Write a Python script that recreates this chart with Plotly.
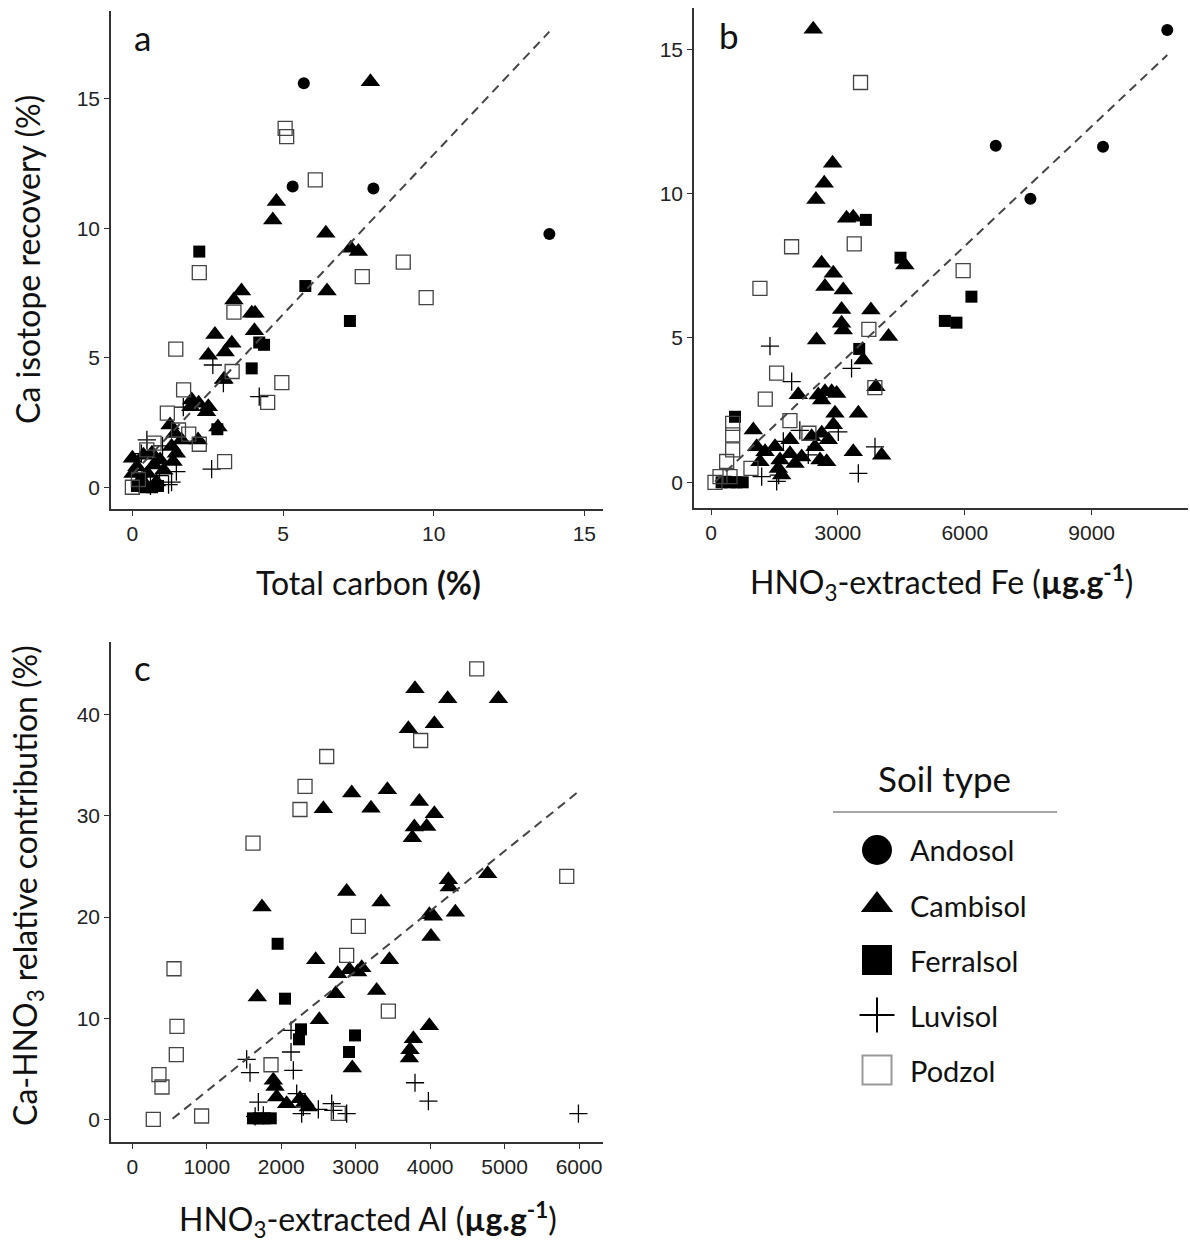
import numpy as np
import plotly.graph_objects as go

W, H = 1190, 1243
soil_types = ["Andosol", "Cambisol", "Ferralsol", "Luvisol", "Podzol"]

# ---------------- Panel a : Total carbon (%) vs Ca isotope recovery (%)
a_andosol_x = [5.69, 5.32, 8.0, 13.84]
a_andosol_y = [15.6, 11.61, 11.54, 9.78]
a_cambisol_x = [7.9, 4.78, 4.66, 6.42, 7.25, 7.5, 6.46, 3.62, 3.37, 3.96, 4.07, 4.05, 2.74, 3.30, 3.08,
                2.52, 3.04, 1.97, 2.2, 1.94, 2.52, 2.46, 2.84, 1.25, 1.41, 1.63, 2.18, 1.3, 1.46, 1.35,
                0.0, 0.37, 0.65, 0.92, 0.15, 0.71, 0.02, 0.5, 1.04, 0.3, 0.8]
a_cambisol_y = [15.66, 11.03, 10.32, 9.81, 9.23, 9.1, 7.58, 7.58, 7.23, 6.72, 6.72, 6.04, 5.9, 5.56, 5.22,
                5.1, 4.17, 3.37, 3.24, 3.11, 3.11, 2.92, 2.33, 2.4, 2.08, 1.82, 1.82, 1.57, 1.31, 0.99,
                1.12, 1.24, 1.31, 1.05, 0.79, 0.86, 0.53, 0.53, 0.66, 0.3, 0.2]
a_ferralsol_x = [2.22, 5.74, 7.22, 4.21, 4.37, 3.96, 2.82, 0.15, 0.4, 0.65, 0.85, 0.3]
a_ferralsol_y = [9.1, 7.77, 6.42, 5.59, 5.5, 4.59, 2.24, 0.05, 0.0, 0.0, 0.05, 0.25]
a_luvisol_x = [2.67, 3.02, 4.21, 2.63, 1.3, 0.48, 1.69, 1.46, 0.9, 0.3, 0.6, 1.0, 1.2]
a_luvisol_y = [4.72, 4.02, 3.5, 0.7, 0.2, 1.83, 3.09, 0.6, 0.45, 1.3, 0.05, 1.6, 0.1]
a_podzol_x = [5.07, 5.12, 6.07, 2.22, 8.99, 7.63, 9.75, 3.37, 1.44, 3.31, 4.96, 4.49, 1.70, 1.16, 1.53,
              1.87, 2.22, 3.06, 0.72, 0.48, 0.0, 0.2]
a_podzol_y = [13.86, 13.54, 11.87, 8.29, 8.69, 8.13, 7.32, 6.76, 5.33, 4.47, 4.04, 3.28, 3.76, 2.86, 2.21,
              2.05, 1.66, 0.99, 1.70, 1.44, 0.0, 0.3]
a_fit = [0.5, 1.235]          # intercept, slope

# ---------------- Panel b : HNO3-extracted Fe vs Ca isotope recovery (%)
b_andosol_x = [10787, 6732, 9268, 7551]
b_andosol_y = [15.67, 11.66, 11.62, 9.82]
b_cambisol_x = [2417, 2874, 2677, 2480, 3205, 3362, 2614, 2890, 4583, 2693, 3126, 3087, 3087, 3126, 3780,
                4197, 2496, 3598, 3898, 2063, 2537, 2695, 2853, 2971, 2616, 2931, 3483, 2892, 1000, 1868,
                1513, 1080, 1277, 1158, 2380, 2617, 2773, 2459, 2144, 1868, 1986, 1631, 1591, 1670, 2577,
                2735, 3364, 4035]
b_cambisol_y = [15.69, 11.05, 10.36, 9.80, 9.15, 9.18, 7.59, 7.24, 7.53, 6.78, 6.66, 5.99, 5.51, 5.28, 5.97,
                5.05, 4.93, 4.24, 3.31, 3.03, 3.02, 3.14, 3.14, 3.08, 2.85, 2.39, 2.39, 1.99, 1.81, 1.47,
                1.23, 1.23, 1.06, 0.71, 1.58, 1.70, 1.47, 1.23, 0.88, 0.99, 0.65, 0.77, 0.48, 0.25, 0.77,
                0.71, 1.06, 0.94]
b_ferralsol_x = [3661, 4480, 6157, 5528, 5803, 3504, 567, 250, 450, 600, 750, 350]
b_ferralsol_y = [9.09, 7.78, 6.43, 5.59, 5.53, 4.62, 2.27, 0.0, 0.0, 0.0, 0.0, 0.02]
b_luvisol_x = [1394, 3323, 1907, 3877, 3483, 1710, 3010, 1198, 1553, 2300, 1600, 2100]
b_luvisol_y = [4.72, 3.95, 3.49, 1.23, 0.31, 1.42, 1.75, 0.2, 0.03, 0.95, 0.25, 1.8]
b_podzol_x = [3535, 1905, 3386, 1157, 5961, 3732, 1551, 1283, 3874, 1866, 2315, 512, 512, 512, 370, 945,
              213, 449, 94]
b_podzol_y = [13.85, 8.16, 8.26, 6.72, 7.33, 5.30, 3.78, 2.88, 3.28, 2.14, 1.70, 2.04, 1.64, 1.12, 0.72, 0.48,
              0.2, 0.2, 0.0]
b_fit = [-0.11, 0.0013822]

# ---------------- Panel c : HNO3-extracted Al vs Ca-HNO3 relative contribution (%)
c_cambisol_x = [3797, 4236, 4917, 4057, 3708, 2947, 3426, 2566, 3206, 3855, 4057, 3788, 3954, 3761, 1742,
                2879, 3341, 4245, 4258, 4773, 3990, 4044, 4339, 4012, 2463, 3453, 2758, 2915, 3081, 3027,
                2732, 3282, 1679, 2512, 3990, 3775, 3730, 3721, 2955, 1894, 1917, 1939, 2073, 2252, 2320,
                2364]
c_cambisol_y = [42.57, 41.58, 41.58, 39.11, 38.62, 32.26, 32.59, 30.71, 30.77, 31.43, 30.21, 28.9, 28.96, 27.84,
                20.99, 22.54, 21.48, 23.69, 22.97, 24.28, 20.23, 20.07, 20.49, 18.09, 15.78, 15.78, 14.4,
                14.79, 14.99, 14.56, 12.42, 12.75, 12.09, 9.85, 9.26, 7.97, 6.89, 6.06, 5.07, 3.86, 3.26,
                2.21, 1.55, 2.04, 1.71, 1.22]
c_ferralsol_x = [1952, 2051, 2266, 2239, 2991, 2911, 1620, 1700, 1780, 1860]
c_ferralsol_y = [17.36, 11.93, 8.9, 7.91, 8.30, 6.66, 0.1, 0.1, 0.1, 0.1]
c_luvisol_x = [1536, 1581, 2132, 2132, 2163, 1693, 2208, 2678, 2700, 2879, 2275, 2499, 3797, 3977, 5992,
               1760, 2297, 1650]
c_luvisol_y = [5.93, 4.61, 8.8, 6.66, 4.84, 1.71, 2.54, 1.55, 0.89, 0.56, 0.56, 0.99, 3.62, 1.81, 0.56,
               0.4, 1.22, 0.3]
c_podzol_x = [4626, 3873, 2611, 2320, 2252, 1621, 5835, 3036, 2879, 560, 3439, 600, 591, 358, 399, 1863,
              931, 282, 2767]
c_podzol_y = [44.55, 37.46, 35.88, 32.92, 30.64, 27.31, 24.02, 19.08, 16.21, 14.89, 10.71, 9.19, 6.39, 4.42,
              3.2, 5.4, 0.33, 0.0, 0.6]
c_fit = [-3.15, 0.005934]

a_ticks = [0, 5, 10, 15]
b_xticks = [0, 3000, 6000, 9000]
c_xticks = [0, 1000, 2000, 3000, 4000, 5000, 6000]
c_yticks = [0, 10, 20, 30, 40]

# ---------------- styles
STYLE = {
    "Andosol":   dict(symbol="circle", size=12, color="black", line=dict(width=0)),
    "Cambisol":  dict(symbol="triangle-up", size=17, color="black", line=dict(width=0)),
    "Ferralsol": dict(symbol="square", size=12, color="black", line=dict(width=0)),
    "Luvisol":   dict(symbol="cross-thin", size=13, color="black", line=dict(width=1.3, color="black")),
    "Podzol":    dict(symbol="square-open", size=14, color="#444", line=dict(width=1.3, color="#444")),
}
LEG_STYLE = {
    "Andosol":   dict(symbol="circle", size=30, color="black", line=dict(width=0)),
    "Cambisol":  dict(symbol="triangle-up", size=28, color="black", line=dict(width=0)),
    "Ferralsol": dict(symbol="square", size=30, color="black", line=dict(width=0)),
    "Luvisol":   dict(symbol="cross-thin", size=25, color="black", line=dict(width=2, color="black")),
    "Podzol":    dict(symbol="square-open", size=29, color="#999", line=dict(width=2, color="#999")),
}

panels = {
    "a": dict(ax=("x", "y"), data={
        "Andosol": (a_andosol_x, a_andosol_y), "Cambisol": (a_cambisol_x, a_cambisol_y),
        "Ferralsol": (a_ferralsol_x, a_ferralsol_y), "Luvisol": (a_luvisol_x, a_luvisol_y),
        "Podzol": (a_podzol_x, a_podzol_y)}, fit=a_fit),
    "b": dict(ax=("x2", "y2"), data={
        "Andosol": (b_andosol_x, b_andosol_y), "Cambisol": (b_cambisol_x, b_cambisol_y),
        "Ferralsol": (b_ferralsol_x, b_ferralsol_y), "Luvisol": (b_luvisol_x, b_luvisol_y),
        "Podzol": (b_podzol_x, b_podzol_y)}, fit=b_fit),
    "c": dict(ax=("x3", "y3"), data={
        "Cambisol": (c_cambisol_x, c_cambisol_y),
        "Ferralsol": (c_ferralsol_x, c_ferralsol_y), "Luvisol": (c_luvisol_x, c_luvisol_y),
        "Podzol": (c_podzol_x, c_podzol_y)}, fit=c_fit),
}

fig = go.Figure()
draw_order = ["Cambisol", "Ferralsol", "Andosol", "Luvisol", "Podzol"]
for key, p in panels.items():
    xa, ya = p["ax"]
    allx = []
    for st in draw_order:
        if st not in p["data"]:
            continue
        xs, ys = p["data"][st]
        allx += xs
        fig.add_trace(go.Scatter(x=xs, y=ys, mode="markers", xaxis=xa, yaxis=ya,
                                 marker=STYLE[st], showlegend=False, name=st))
    # linear fit (lm) drawn over the data range, values below 0 dropped
    fx = np.linspace(min(allx), max(allx), 200)
    fy = p["fit"][0] + p["fit"][1] * fx
    keep = fy >= 0
    fig.add_trace(go.Scatter(x=fx[keep], y=fy[keep], mode="lines", xaxis=xa, yaxis=ya,
                             line=dict(color="#444", width=2, dash="9px,6px"), showlegend=False,
                             hoverinfo="skip"))

# legend as markers on a hidden axis (pixel coordinates)
leg_x0 = 877
leg_y = [850 + 55 * i for i in range(len(soil_types))]
for st, yy in zip(soil_types, leg_y):
    fig.add_trace(go.Scatter(x=[leg_x0], y=[yy], mode="markers", xaxis="x4", yaxis="y4",
                             marker=LEG_STYLE[st], showlegend=False, hoverinfo="skip"))


def dx(p):
    return p / W


def dy(p):
    return 1 - p / H


axis_common = dict(showline=True, linecolor="#333", linewidth=1.5, ticks="outside", ticklen=5,
                   tickwidth=1.2, tickcolor="#333", showgrid=False, zeroline=False, mirror=False,
                   tickfont=dict(family="Liberation Sans, Arial", size=21, color="#222"))

fig.update_layout(
    width=W, height=H, margin=dict(l=0, r=0, t=0, b=0),
    paper_bgcolor="white", plot_bgcolor="white",
    xaxis=dict(domain=[dx(111), dx(603)], range=[-0.71, 15.62], tickvals=a_ticks, anchor="y", **axis_common),
    yaxis=dict(domain=[dy(509), dy(11)], range=[-0.84, 18.39], tickvals=a_ticks, anchor="x", **axis_common),
    xaxis2=dict(domain=[dx(694), dx(1188)], range=[-402, 11277], tickvals=b_xticks, anchor="y2", **axis_common),
    yaxis2=dict(domain=[dy(508), dy(8)], range=[-0.89, 16.43], tickvals=a_ticks, anchor="x2", **axis_common),
    xaxis3=dict(domain=[dx(111), dx(603)], range=[-286, 6322], tickvals=c_xticks, anchor="y3", **axis_common),
    yaxis3=dict(domain=[dy(1142), dy(642)], range=[-2.24, 47.2], tickvals=c_yticks, anchor="x3", **axis_common),
    xaxis4=dict(domain=[dx(820), dx(1080)], range=[820, 1080], visible=False, anchor="y4"),
    yaxis4=dict(domain=[dy(1110), dy(740)], range=[1110, 740], visible=False, anchor="x4"),
)

TF = "Lato, Open Sans, sans-serif"
ann = []


def add_text(text, px, py, size, angle=0, xanchor="center", color="#111"):
    ann.append(dict(text=text, x=dx(px), y=dy(py), xref="paper", yref="paper", showarrow=False,
                    xanchor=xanchor, yanchor="middle", textangle=angle,
                    font=dict(family=TF, size=size, color=color)))


# panel letters
add_text("a", 142, 37, 35)
add_text("b", 729, 35, 35)
add_text("c", 142, 667, 35)
# axis titles
add_text("Total carbon <b>(%)</b>", 368, 582, 32)
add_text("HNO<sub>3</sub>-extracted Fe (<b>µg.g<sup>-1</sup></b>)", 941, 582, 32)
add_text("HNO<sub>3</sub>-extracted Al (<b>µg.g<sup>-1</sup></b>)", 368, 1219, 32)
add_text("Ca isotope recovery (%)", 27, 260, 32, angle=-90)
add_text("Ca-HNO<sub>3</sub> relative contribution (%)", 27, 886, 32, angle=-90)
# legend texts
add_text("Soil type", 944, 778, 35)
for st, yy in zip(soil_types, leg_y):
    add_text(st, 908, yy, 29, xanchor="left")

fig.update_layout(annotations=ann,
                  shapes=[dict(type="line", xref="paper", yref="paper", x0=dx(833), x1=dx(1057),
                               y0=dy(812), y1=dy(812), line=dict(color="#888", width=1.5))])

fig.write_html("out.html", config={"displayModeBar": False},
               post_script="document.body.style.margin='0';")
